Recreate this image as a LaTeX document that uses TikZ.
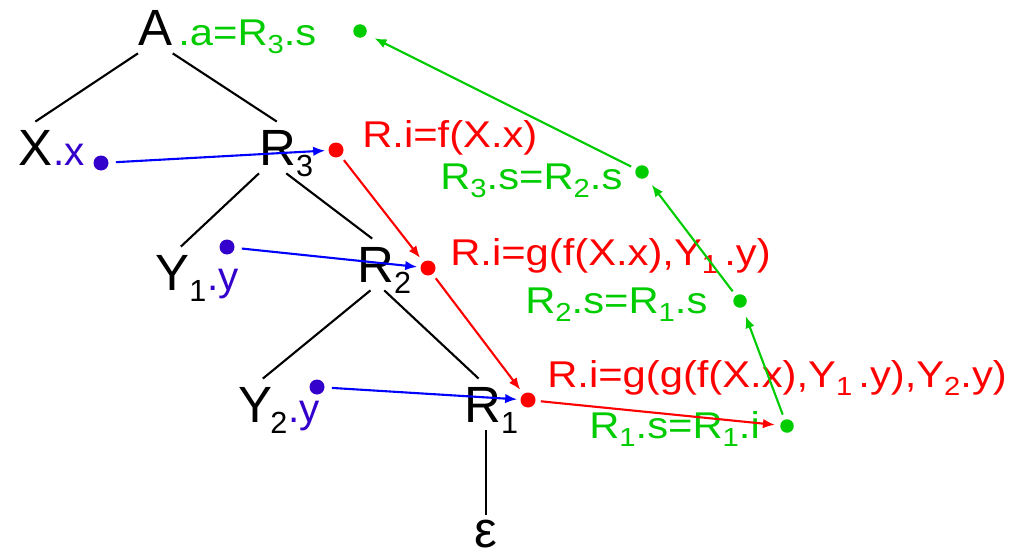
\documentclass[tikz,border=0pt]{standalone}
\usepackage{fontspec}
\usepackage{graphicx}
\setmainfont{Liberation Sans}
\newfontfamily\attrfont{Liberation Sans}[FakeStretch=1.12]
\usetikzlibrary{arrows.meta}
\definecolor{attrgreen}{RGB}{0,204,0}
\definecolor{attrred}{RGB}{255,0,0}
\definecolor{attrblue}{RGB}{51,0,204}
\definecolor{arrowblue}{RGB}{0,0,255}
\newcommand{\subs}[2][0.6]{\smash{\raisebox{-0.22em}{\scalebox{#1}{#2}}}}
\tikzset{
  treenode/.style={inner xsep=0pt, inner ysep=0.16cm, anchor=base west,
    font=\fontsize{29}{32}\selectfont},
  treeedge/.style={line width=1.2pt},
  attr/.style={inner sep=0pt, anchor=base west,
    font=\attrfont\fontsize{21.2}{24}\selectfont},
  val/.style={inner sep=0pt, anchor=base west, text=attrblue,
    font=\fontsize{23}{26}\selectfont},
  dot/.style={circle, fill=#1, inner sep=0pt, minimum size=0.3cm},
  dep/.style={->, line width=1.2pt, draw=#1, shorten <=0.1cm, shorten >=0.1cm},
}
\begin{document}
\begin{tikzpicture}[>={Latex[length=0.24cm,width=0.19cm]}]
  \useasboundingbox (0,0) rectangle (20.2,11.16);
  % parse tree
  \node[treenode] (A) at (2.76,10.26) {A};
  \node[treenode] (X) at (0.36,7.86) {X};
  \node[treenode] (R3) at (5.18,7.86) {R\subs{3}};
  \node[treenode] (Y1) at (3.10,5.36) {Y\subs{1}};
  \node[treenode] (R2) at (7.14,5.52) {R\subs{2}};
  \node[treenode] (Y2) at (4.76,2.72) {Y\kern-0.04em\subs{2}};
  \node[treenode] (R1) at (9.28,2.72) {R\subs{1}};
  \node[treenode, anchor=base, inner ysep=0.08cm] (eps) at (9.72,0.22) {ε};
  \draw[treeedge] (A.south west) -- (X.north);
  \draw[treeedge] (A.south east) -- (R3.110);
  \draw[treeedge] (R3.south west) -- (Y1.north);
  \draw[treeedge] (R3.south) -- (R2.115);
  \draw[treeedge] (R2.-118) -- (Y2.north);
  \draw[treeedge] (R2.south) -- (R1.116);
  \draw[treeedge] (R1.south -| eps.north) -- (eps.north);
  % attributes
  \node[val] (Xx) at (1.06,7.86) {.x};
  \node[val] (Y1y) at (4.14,5.36) {.y};
  \node[val] (Y2y) at (5.76,2.72) {.y};
  \node[attr, text=attrgreen] (Aa) at (3.56,10.26) {.a=R\subs[0.7]{3}.s};
  \node[attr, text=attrred] (R3i) at (7.24,8.22) {R.i=f(X.x)};
  \node[attr, text=attrgreen] (R3s) at (8.80,7.38) {R\subs[0.7]{3}.s=R\subs[0.7]{2}.s};
  \node[attr, text=attrred] (R2i) at (9.00,5.86) {R.i=g(f(X.x),Y\subs[0.7]{1}\,.y)};
  \node[attr, text=attrgreen] (R2s) at (10.50,4.90) {R\subs[0.7]{2}.s=R\subs[0.7]{1}.s};
  \node[attr, text=attrred] (R1i) at (10.94,3.42) {R.i=g(g(f(X.x),Y\subs[0.7]{1}\,.y),Y\subs[0.7]{2}.y)};
  \node[attr, text=attrgreen] (R1s) at (11.78,2.40) {R\subs[0.7]{1}.s=R\subs[0.7]{1}.i};
  % value dots
  \node[dot=attrblue] (xv) at (2.02,7.90) {};
  \node[dot=attrblue] (y1v) at (4.54,6.22) {};
  \node[dot=attrblue] (y2v) at (6.34,3.42) {};
  \node[dot=attrred] (r3i) at (6.72,8.16) {};
  \node[dot=attrred] (r2i) at (8.56,5.80) {};
  \node[dot=attrred] (r1i) at (10.56,3.16) {};
  \node[dot=attrgreen, minimum size=0.27cm] (as) at (7.20,10.54) {};
  \node[dot=attrgreen, minimum size=0.27cm] (r3s) at (12.84,7.72) {};
  \node[dot=attrgreen, minimum size=0.27cm] (r2s) at (14.80,5.14) {};
  \node[dot=attrgreen, minimum size=0.27cm] (r1s) at (15.74,2.64) {};
  % dependencies
  \draw[dep=arrowblue, shorten <=0.14cm, shorten >=0.06cm] (xv) -- (r3i);
  \draw[dep=arrowblue, shorten <=0.14cm, shorten >=0.06cm] (y1v) -- (r2i);
  \draw[dep=arrowblue, shorten <=0.14cm, shorten >=0.06cm] (y2v) -- (r1i);
  \draw[dep=attrred] (r3i) -- (r2i);
  \draw[dep=attrred] (r2i) -- (r1i);
  \draw[dep=attrred] (r1i) -- (r1s);
  \draw[dep=attrgreen, shorten >=0.18cm] (r1s) -- (r2s);
  \draw[dep=attrgreen, shorten >=0.18cm] (r2s) -- (r3s);
  \draw[dep=attrgreen, shorten >=0.18cm] (r3s) -- (as);
\end{tikzpicture}
\end{document}
